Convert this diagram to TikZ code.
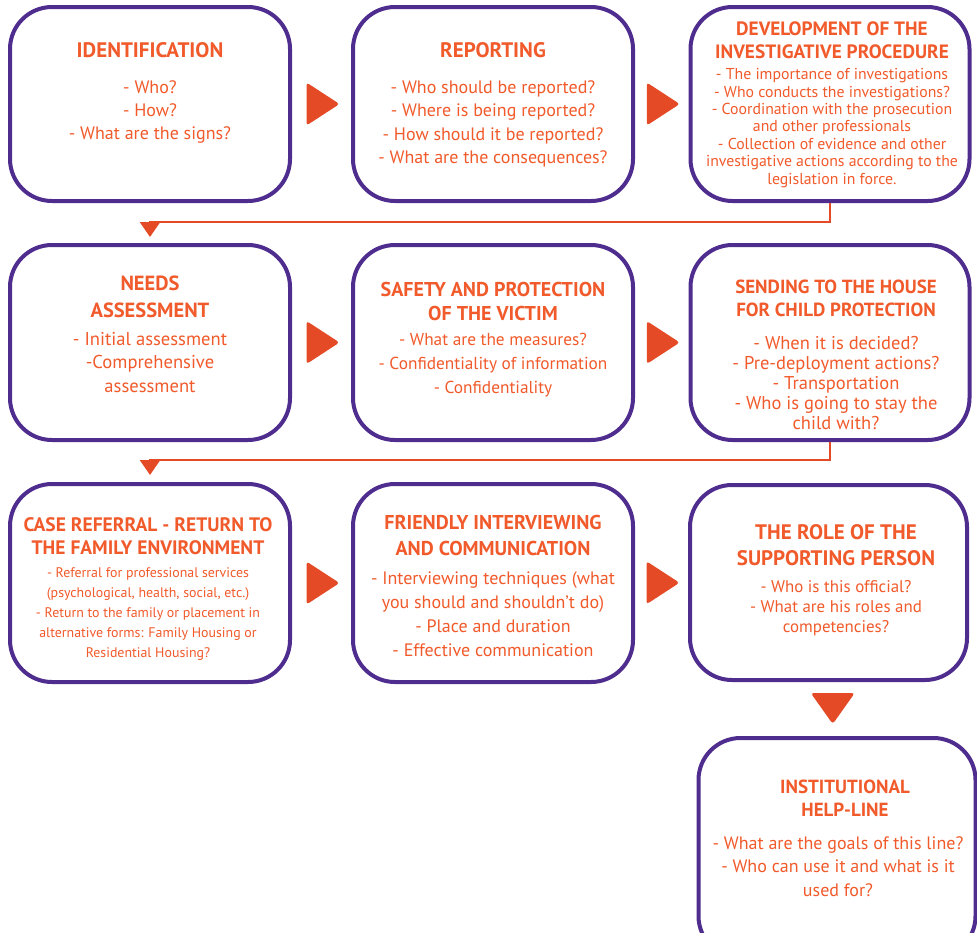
\documentclass[tikz,border=0pt]{standalone}
\usepackage{fontspec}
\setmainfont{PT Sans}
\usetikzlibrary{calc,arrows.meta}
\definecolor{purp}{HTML}{4F2D8F}
\definecolor{orng}{HTML}{F15A2B}
\definecolor{arrc}{HTML}{E54A26}
\begin{document}
\begin{tikzpicture}[x=1pt,y=-1pt,
  box/.style={draw=purp, line width=4pt, rounded corners=42pt, fill=white, inner sep=0pt},
  ttl/.style={text=orng, font=\bfseries\fontsize{20}{23}\selectfont, align=center, inner sep=0pt},
  bdy/.style={text=orng, align=center, inner sep=0pt},
  arr/.style={fill=arrc, rounded corners=3pt},
  conn/.style={draw=arrc, line width=2.5pt, -{Triangle[width=20pt,length=15pt]}}]
\path[use as bounding box, clip] (0,0) rectangle (977,932);
\fill[white] (0,0) rectangle (977,932);
% boxes
\node[box, minimum width=280pt, minimum height=194pt] (b1) at (150,104) {};
\node[box, minimum width=280pt, minimum height=194pt] (b2) at (493,104) {};
\node[box, minimum width=279pt, minimum height=194pt] (b3) at (830,104) {};
\node[box, minimum width=280pt, minimum height=195pt] (b4) at (150,342.5) {};
\node[box, minimum width=280pt, minimum height=195pt] (b5) at (493,342.5) {};
\node[box, minimum width=279pt, minimum height=195pt] (b6) at (830,342.5) {};
\node[box, minimum width=280pt, minimum height=198pt] (b7) at (150,583) {};
\node[box, minimum width=280pt, minimum height=198pt] (b8) at (493,583) {};
\node[box, minimum width=277pt, minimum height=195pt] (b9) at (828.5,582.5) {};
\node[box, minimum width=277pt, minimum height=220pt] (b10) at (837,848) {};
% texts
\node[ttl, font=\bfseries\fontsize{21}{23}\selectfont] (t1) at (150,50) {IDENTIFICATION};
\node[bdy, font=\fontsize{18}{23.3}\selectfont] (d1) at (150,112) {- Who?\\- How?\\- What are the signs?};
\node[ttl, font=\bfseries\fontsize{21}{23}\selectfont] (t2) at (493,50) {REPORTING};
\node[bdy, font=\fontsize{18}{23.3}\selectfont] (d2) at (493,124) {- Who should be reported?\\- Where is being reported?\\- How should it be reported?\\- What are the consequences?};
\node[ttl, font=\bfseries\fontsize{19.3}{23}\selectfont] (t3) at (832,40.5) {DEVELOPMENT OF THE\\INVESTIGATIVE PROCEDURE};
\node[bdy, font=\fontsize{15.8}{17.4}\selectfont] (d3) at (832,128) {- The importance of investigations\\- Who conducts the investigations?\\- Coordination with the prosecution\\and other professionals\\- Collection of evidence and other\\investigative actions according to the\\legislation in force.};
\node[ttl, font=\bfseries\fontsize{20.5}{27}\selectfont] (t4) at (150,296.5) {NEEDS\\ASSESSMENT};
\node[bdy, font=\fontsize{18.6}{23.5}\selectfont] (d4) at (150,362.5) {- Initial assessment\\-Comprehensive\\assessment};
\node[ttl, font=\bfseries\fontsize{20}{24}\selectfont] (t5) at (493,301) {SAFETY AND PROTECTION\\OF THE VICTIM};
\node[bdy, font=\fontsize{17.3}{24}\selectfont] (d5) at (493,365) {- What are the measures?\\- Confidentiality of information\\- Confidentiality};
\node[ttl, font=\bfseries\fontsize{19}{23}\selectfont] (t6) at (836,298.5) {SENDING TO THE HOUSE\\FOR CHILD PROTECTION};
\node[bdy, font=\fontsize{18.5}{20}\selectfont] (d6) at (836,383) {- When it is decided?\\- Pre-deployment actions?\\- Transportation\\- Who is going to stay the\\child with?};
\node[ttl, font=\bfseries\fontsize{19.5}{23}\selectfont] (t7) at (148,536.5) {CASE REFERRAL - RETURN TO\\THE FAMILY ENVIRONMENT};
\node[bdy, font=\fontsize{13.9}{20}\selectfont] (d7) at (148,614.5) {- Referral for professional services\\(psychological, health, social, etc.)\\- Return to the family or placement in\\alternative forms: Family Housing or\\Residential Housing?};
\node[ttl, font=\bfseries\fontsize{20}{26}\selectfont] (t8) at (493,535) {FRIENDLY INTERVIEWING\\AND COMMUNICATION};
\node[bdy, font=\fontsize{18}{24}\selectfont] (d8) at (493,614) {- Interviewing techniques (what\\you should and shouldn't do)\\- Place and duration\\- Effective communication};
\node[ttl, font=\bfseries\fontsize{21}{26}\selectfont] (t9) at (836,545) {THE ROLE OF THE\\SUPPORTING PERSON};
\node[bdy, font=\fontsize{16.9}{20}\selectfont] (d9) at (836,608) {- Who is this official?\\- What are his roles and\\competencies?};
\node[ttl, font=\bfseries\fontsize{19}{23.5}\selectfont] (t10) at (845,798.5) {INSTITUTIONAL\\HELP-LINE};
\node[bdy, font=\fontsize{18}{23.5}\selectfont] (d10) at (838,866.5) {- What are the goals of this line?\\- Who can use it and what is it\\used for?};
% right arrows
\foreach \a/\b in {b1/b2, b2/b3, b4/b5, b5/b6, b7/b8, b8/b9}{
  \fill[arr] ($(\a.east)!0.5!(\b.west)$) +(-15,-21.5) -- +(18,0) -- +(-15,21.5) -- cycle;
}
% down arrow
\fill[arr] ($(b9.south)!0.5!(b10.north)$) +(-22,-16) -- +(22,-16) -- +(0,15) -- cycle;
% connectors
\coordinate (c1) at (150,222);
\coordinate (e1) at (150,237);
\draw[conn] (b3.south) |- (c1) -- (e1);
\coordinate (c2) at (150,460);
\coordinate (e2) at (150,475);
\draw[conn] (b6.south) |- (c2) -- (e2);
\end{tikzpicture}
\end{document}
